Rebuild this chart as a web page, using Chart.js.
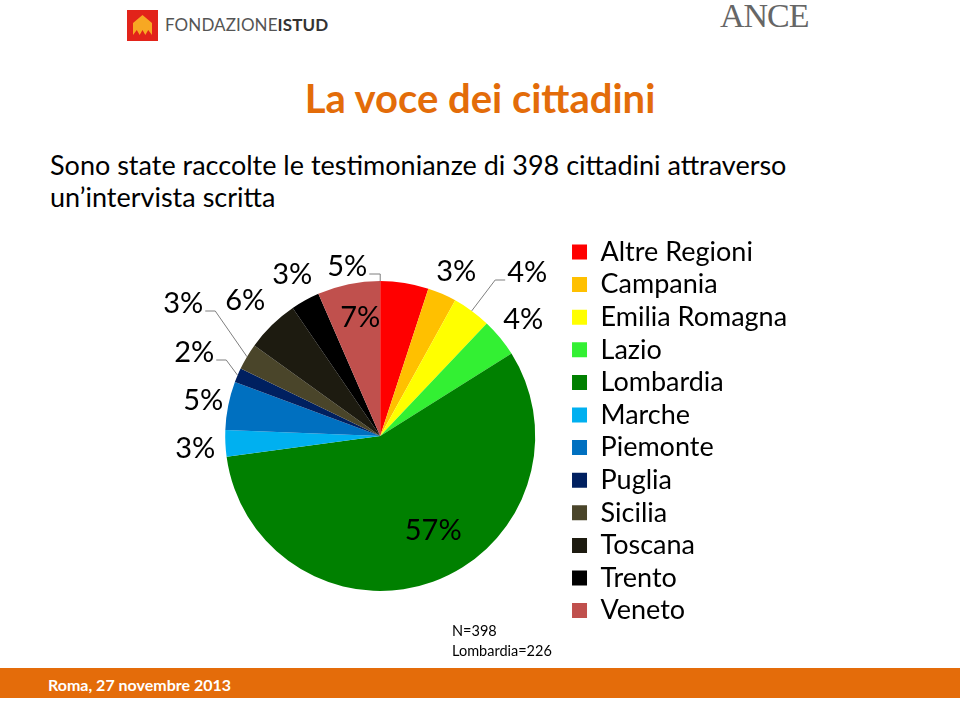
<!DOCTYPE html>
<html>
<head>
<meta charset="utf-8">
<script src="https://cdn.jsdelivr.net/npm/chart.js@4.4.0/dist/chart.umd.min.js"></script>
<style>
  body { margin: 0; background: #fff; font-family: Lato, sans-serif; }
  #slide { position: relative; width: 960px; height: 703px; overflow: hidden; background: #fff; }
  .abs { position: absolute; white-space: nowrap; }
  #logoBox { left: 127px; top: 10px; width: 31px; height: 31px; background: #e2231a; }
  #logoHouse { left: 6px; top: 5px; width: 19px; height: 20px; background: #f7a823;
    clip-path: polygon(50% 0, 100% 40%, 100% 100%, 80% 75%, 65% 100%, 50% 75%, 35% 100%, 20% 75%, 0 100%, 0 40%); }
  #logoText { left: 165px; top: 14px; font-size: 17px; color: #555; letter-spacing: 0.1px; }
  #logoText b { color: #333; font-weight: 700; }
  #ance { left: 720px; top: -3px; font-family: "Liberation Serif", serif; font-size: 34px; color: #666; letter-spacing: -1px; }
  #title { left: 0; width: 960px; text-align: center; top: 78px; font-size: 40px; line-height: 1; font-weight: 700; color: #e36c09; }
  #sub { left: 50px; top: 149px; font-size: 27px; line-height: 32px; color: #000; }
  #chartBox { left: 150px; top: 230px; width: 660px; height: 420px; }
  #note { left: 452px; top: 621px; font-size: 14.5px; line-height: 20px; color: #000; }
  #footer { left: 0; top: 668px; width: 960px; height: 30px; background: #e46c0a; }
  #footer span { position: absolute; left: 48px; top: 7px; font-size: 16px; font-weight: 700; color: #fff; }
</style>
</head>
<body>
<div id="slide">
  <div class="abs" id="logoBox"><div class="abs" id="logoHouse"></div></div>
  <div class="abs" id="logoText">FONDAZIONE<b>ISTUD</b></div>
  <div class="abs" id="ance">ANCE</div>
  <div class="abs" id="title">La voce dei cittadini</div>
  <div class="abs" id="sub">Sono state raccolte le testimonianze di 398 cittadini attraverso<br>un’intervista scritta</div>
  <div class="abs" id="chartBox"><canvas id="pieChart"></canvas></div>
  <div class="abs" id="note">N=398<br>Lombardia=226</div>
  <div class="abs" id="footer"><span>Roma, 27 novembre 2013</span></div>
</div>
<script>
// risposte per regione (N=398)
const regions = ['Altre Regioni', 'Campania', 'Emilia Romagna', 'Lazio', 'Lombardia', 'Marche',
                 'Piemonte', 'Puglia', 'Sicilia', 'Toscana', 'Trento', 'Veneto'];
const counts = [20, 12, 16, 16, 226, 11, 20, 6, 11, 22, 12, 26];

const sliceColors = ['#ff0000', '#ffc000', '#ffff00', '#33f033', '#008000', '#00b0f0',
                     '#0070c0', '#002060', '#4a452a', '#1d1b10', '#000000', '#c0504d'];

// posizione delle etichette rispetto al centro della torta, e linee guida
const labelOffsets = [[-33, -169], [76, -164], [147, -163], [143, -116], [53, 95], [-185, 13],
                      [-177, -35], [-186, -83], [-197, -132], [-135, -135], [-88, -161], [-20, -118]];
const leaders = ['start', null, 'mid', null, null, null, null, 'mid', 'mid', null, null, null];

const pieLabels = {
    id: 'pieLabels',
    afterDatasetsDraw(chart) {
        const ctx = chart.ctx;
        const meta = chart.getDatasetMeta(0);
        const total = counts.reduce((a, b) => a + b, 0);
        ctx.save();
        ctx.font = '29px Lato';
        ctx.fillStyle = '#000';
        ctx.strokeStyle = '#7f7f7f';
        ctx.lineWidth = 1;
        ctx.textAlign = 'center';
        ctx.textBaseline = 'middle';
        meta.data.forEach((arc, i) => {
            const p = arc.getProps(['x', 'y', 'startAngle', 'endAngle', 'outerRadius'], true);
            const tx = p.x + labelOffsets[i][0];
            const ty = p.y + labelOffsets[i][1];
            const text = Math.round(counts[i] / total * 100) + '%';
            if (leaders[i]) {
                const ang = leaders[i] === 'start' ? p.startAngle : (p.startAngle + p.endAngle) / 2;
                const ax = p.x + Math.cos(ang) * p.outerRadius;
                const ay = p.y + Math.sin(ang) * p.outerRadius;
                const w = ctx.measureText(text).width;
                const side = ax > tx ? 1 : -1;
                const ex = tx + side * (w / 2 + 2);
                const ly = ty + 7;
                const kx = leaders[i] === 'start' ? ax : ex + side * 10;
                ctx.beginPath();
                ctx.moveTo(ex, ly);
                ctx.lineTo(kx, ly);
                ctx.lineTo(ax, ay);
                ctx.stroke();
            }
            ctx.fillText(text, tx, ty);
        });
        ctx.restore();
    }
};

new Chart(document.getElementById('pieChart').getContext('2d'), {
    type: 'pie',
    data: {
        labels: regions,
        datasets: [{
            data: counts,
            backgroundColor: sliceColors,
            borderWidth: 0,
            radius: 155
        }]
    },
    options: {
        responsive: true,
        maintainAspectRatio: false,
        animation: false,
        layout: { padding: { left: 44, right: 12.9, top: 2.9, bottom: 10.9 } },
        plugins: {
            legend: {
                position: 'right',
                align: 'start',
                labels: {
                    boxWidth: 15,
                    boxHeight: 15,
                    padding: 5.6,
                    color: '#000',
                    font: { family: 'Lato', size: 27 }
                }
            },
            tooltip: { enabled: false }
        }
    },
    plugins: [pieLabels]
});
</script>
</body>
</html>
